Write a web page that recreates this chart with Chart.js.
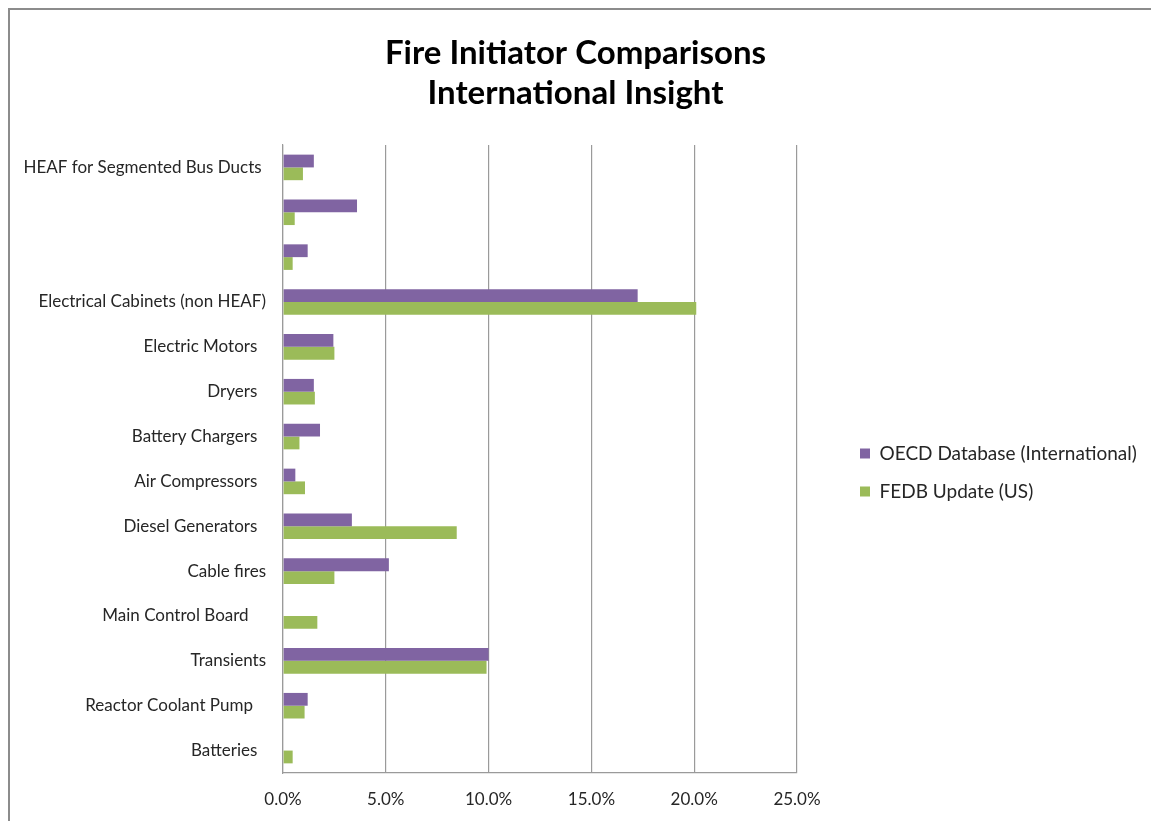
<!DOCTYPE html>
<html>
<head>
<meta charset="utf-8">
<script src="https://cdn.jsdelivr.net/npm/chart.js@4.4.1/dist/chart.umd.min.js"></script>
<style>
  html, body { margin: 0; padding: 0; background: #ffffff; }
  #wrap { position: relative; width: 1151px; height: 821px; overflow: hidden; }
  #frame { position: absolute; left: 8px; top: 8px; width: 1200px; height: 900px;
           border-top: 2px solid #8c8c8c; border-left: 2px solid #8c8c8c; box-sizing: border-box; pointer-events: none; }
  canvas { position: absolute; left: 0; top: 0; }
</style>
</head>
<body>
<div id="wrap">
  <canvas id="c" width="1151" height="821"></canvas>
  <div id="frame"></div>
</div>
<script>
const titleLines = ['Fire Initiator Comparisons', 'International Insight'];
const categories = [
  'HEAF for Segmented Bus Ducts ',
  '',
  '',
  'Electrical Cabinets (non HEAF)',
  'Electric Motors  ',
  'Dryers  ',
  'Battery Chargers  ',
  'Air Compressors  ',
  'Diesel Generators  ',
  'Cable fires',
  'Main Control Board    ',
  'Transients',
  'Reactor Coolant Pump   ',
  'Batteries  '
];
const seriesNames = ['OECD Database (International)', 'FEDB Update (US)'];
const oecdValues = [1.5, 3.6, 1.2, 17.25, 2.45, 1.5, 1.8, 0.6, 3.35, 5.15, 0, 10.0, 1.2, 0];
const fedbValues = [0.97, 0.57, 0.47, 20.1, 2.5, 1.55, 0.8, 1.07, 8.45, 2.5, 1.67, 9.9, 1.05, 0.47];
const xTicks = [0, 5, 10, 15, 20, 25];

const FONT = 'Lato, Carlito, "Open Sans", sans-serif';

const legendPlacer = {
  id: 'legendPlacer',
  afterLayout(chart) {
    const l = chart.legend;
    if (!l) return;
    const h = l.bottom - l.top;
    l.left = 841; l.right = 1151; l.width = 1151 - 841;
    l.top = 62; l.bottom = 62 + h;
  }
};

new Chart(document.getElementById('c'), {
  type: 'bar',
  data: {
    labels: categories,
    datasets: [
      { label: seriesNames[0], data: oecdValues, backgroundColor: '#8064A2', borderWidth: 0 },
      { label: seriesNames[1], data: fedbValues, backgroundColor: '#9BBB59', borderWidth: 0 }
    ]
  },
  plugins: [legendPlacer],
  options: {
    indexAxis: 'y',
    responsive: false,
    animation: false,
    layout: { padding: { left: 0, right: 0, top: 0, bottom: 0 } },
    datasets: { bar: { categoryPercentage: 0.57, barPercentage: 1.0 } },
    plugins: {
      title: {
        display: true,
        text: titleLines,
        color: '#000000',
        font: { family: FONT, size: 33, weight: 'bold', lineHeight: 1.227 },
        padding: { top: 33, bottom: 31 }
      },
      legend: {
        position: 'right',
        maxWidth: 400,
        labels: {
          boxWidth: 10, boxHeight: 10, padding: 19,
          color: '#262626',
          font: { family: FONT, size: 19 }
        }
      },
      tooltip: { enabled: false }
    },
    scales: {
      x: {
        min: 0, max: 25,
        afterBuildTicks: (s) => { s.ticks = xTicks.map(v => ({ value: v })); },
        afterFit: (s) => { s.height = 48; s.paddingRight = 354; },
        ticks: {
          callback: (v) => Number(v).toFixed(1) + '%',
          color: '#262626',
          font: { family: FONT, size: 17 },
          padding: 16,
          maxRotation: 0
        },
        grid: { display: true, color: '#9a9a9a', lineWidth: 1.2, drawTicks: false },
        border: { display: true, color: '#9a9a9a', width: 1.2 }
      },
      y: {
        afterFit: (s) => { s.width = 283; },
        ticks: {
          autoSkip: false,
          color: '#262626',
          font: { family: FONT, size: 17 },
          padding: 17
        },
        grid: { display: false, drawTicks: false },
        border: { display: true, color: '#9a9a9a', width: 1.2 }
      }
    }
  }
});
</script>
</body>
</html>
